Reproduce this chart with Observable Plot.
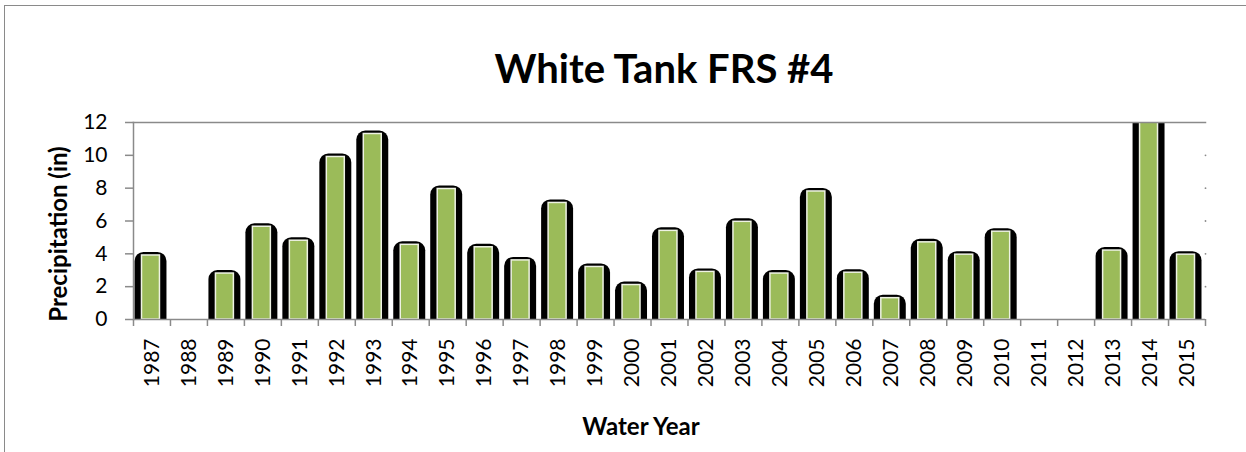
<!DOCTYPE html>
<html>
<head>
<meta charset="utf-8">
<script src="https://cdn.jsdelivr.net/npm/d3@7"></script>
<script src="https://cdn.jsdelivr.net/npm/@observablehq/plot@0.6"></script>
<style>
  html, body { margin: 0; padding: 0; background: #fff; }
  body { width: 1246px; height: 452px; overflow: hidden; position: relative; font-family: Lato, "Open Sans", sans-serif; color: #000; }
  #frame { position: absolute; left: 4px; top: 5px; width: 1400px; height: 700px; border: 1.5px solid #8a8a8a; box-sizing: border-box; }
  .lbl { position: absolute; white-space: nowrap; transform: translate(-50%, -50%); font-weight: bold; line-height: 1; }
  #title { left: 664px; top: 68px; font-size: 40px; }
  #xtitle { left: 641px; top: 426px; font-size: 24px; }
  #ytitle { left: 58px; top: 234px; font-size: 24px; transform: translate(-50%, -50%) rotate(-90deg); }
  #chart { position: absolute; left: 0; top: 100px; }
</style>
</head>
<body>
<div id="frame"></div>
<div id="title" class="lbl">White Tank FRS #4</div>
<div id="ytitle" class="lbl">Precipitation (in)</div>
<div id="xtitle" class="lbl">Water Year</div>
<div id="chart"></div>
<script>
// Water years (categories)
const years = ["1987","1988","1989","1990","1991","1992","1993","1994","1995","1996",
               "1997","1998","1999","2000","2001","2002","2003","2004","2005","2006",
               "2007","2008","2009","2010","2011","2012","2013","2014","2015"];
// Precipitation (in); null = no bar shown
const precipitation = [3.9, null, 2.8, 5.65, 4.8, 9.9, 11.3, 4.55, 7.95, 4.4,
                       3.6, 7.1, 3.2, 2.1, 5.4, 2.9, 5.95, 2.8, 7.8, 2.85,
                       1.3, 4.7, 3.95, 5.35, null, null, 4.2, 12.6, 3.95];
// Y axis ticks
const yTicks = [0, 2, 4, 6, 8, 10, 12];

const data = years.map((year, i) => ({year, value: precipitation[i]}));
const bars = data.filter(d => d.value != null);

const W = 1246, H = 352;
const mL = 133, mR = 41, mT = 22, mB = 133;
const bw = (W - mL - mR) / years.length;
const gray = "#8a8a8a";
const green = "#9bbb59";

const chart = Plot.plot({
  width: W,
  height: H,
  marginLeft: mL,
  marginRight: mR,
  marginTop: mT,
  marginBottom: mB,
  style: {fontFamily: "Lato, 'Open Sans', sans-serif", fontSize: "21px", color: "#000", background: "transparent"},
  x: {domain: years, padding: 0, round: false, label: null},
  y: {domain: [0, 12], label: null},
  marks: [
    // black rounded "shadow" bars
    Plot.barY(bars, {x: "year", y1: () => 0, y2: "value", fill: "#000",
      insetLeft: 1.5, insetRight: 3.5, insetTop: -3, insetBottom: -10, rx: 9, clip: true}),
    // green bars with light outline
    Plot.barY(bars, {x: "year", y: "value", fill: green, stroke: "#eef2e4", strokeWidth: 1.5,
      insetLeft: 8.5, insetRight: 10.5, clip: true}),
    // frame lines
    Plot.frame({anchor: "top", stroke: gray, strokeWidth: 1.5}),
    Plot.frame({anchor: "left", stroke: gray, strokeWidth: 1.5}),
    Plot.ruleY([0], {stroke: gray, strokeWidth: 1.5}),
    // right axis tick dots
    Plot.dot(yTicks.filter(t => t > 0 && t < 12), {y: d => d, frameAnchor: "right", r: 0.9, fill: gray, stroke: null}),
    // y axis
    Plot.axisY({ticks: yTicks, tickSize: 8, tickPadding: 18, stroke: gray, strokeWidth: 1.5, fill: "#000", fontSize: 21, label: null}),
    // x boundary ticks
    Plot.axisX({tickSize: 7, stroke: gray, strokeWidth: 1.5, fill: "none", dx: -bw / 2, label: null}),
    Plot.axisX({ticks: [years[years.length - 1]], tickSize: 7, stroke: gray, strokeWidth: 1.5, fill: "none", dx: bw / 2, label: null}),
    // x labels
    Plot.axisX({tickSize: 0, tickPadding: 19, tickRotate: -90, fill: "#000", fontSize: 21, label: null})
  ]
});
document.getElementById("chart").appendChild(chart);
</script>
</body>
</html>
